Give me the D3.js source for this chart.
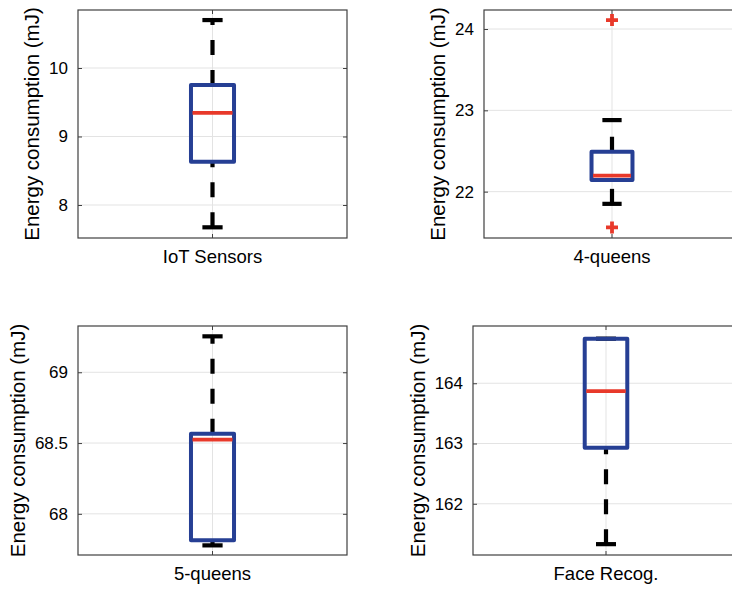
<!DOCTYPE html>
<html>
<head>
<meta charset="utf-8">
<script src="https://cdn.jsdelivr.net/npm/d3@7"></script>
<style>
  html, body { margin: 0; padding: 0; background: #fff; }
  svg { display: block; }
  text { font-family: "Liberation Sans", Arial, Helvetica, sans-serif; fill: #000; }
</style>
</head>
<body>
<svg id="chart" width="732" height="589"></svg>
<script>
// Box-plot statistics for each benchmark (energy in mJ)
const categories   = ["IoT Sensors", "4-queens", "5-queens", "Face Recog."];
const whiskerLow   = [7.674, 21.85, 67.777, 161.33];
const q1           = [8.63, 22.144, 67.814, 162.93];
const medians      = [9.345, 22.197, 68.524, 163.87];
const q3           = [9.752, 22.49, 68.566, 164.74];
const whiskerHigh  = [10.70, 22.88, 69.254, 164.74];
const outliers     = [[], [24.11, 21.56], [], []];
const yLimits      = [[7.518, 10.847], [21.43, 24.234], [67.709, 69.327], [161.15, 164.95]];
const yTickValues  = [[8, 9, 10], [22, 23, 24], [68, 68.5, 69], [162, 163, 164]];
const yLabelText   = "Energy consumption (mJ)";

// Panel frames (2 x 2 grid)
const frames = [
  { x0: 78,  x1: 347, y0: 10,  y1: 238 },
  { x0: 484, x1: 740, y0: 10,  y1: 238 },
  { x0: 78,  x1: 347, y0: 326, y1: 555 },
  { x0: 473, x1: 739, y0: 326, y1: 555 }
];

const BLUE = "#263f94", RED = "#e8392a", AXIS = "#404040", GRID = "#e3e3e3";
const svg = d3.select("#chart");
const fmt = d3.format("~g");

categories.forEach((cat, i) => {
  const f = frames[i];
  const x = d3.scaleLinear().domain([0, 1]).range([f.x0, f.x1]);
  const y = d3.scaleLinear().domain(yLimits[i]).range([f.y1, f.y0]);
  const g = svg.append("g");
  const cx = x(0.5);
  const boxHalf = x(0.58) - x(0.5);
  const capHalf = boxHalf * 0.47;

  // grid lines
  g.append("g").selectAll("line").data(yTickValues[i]).join("line")
    .attr("x1", f.x0).attr("x2", f.x1)
    .attr("y1", d => y(d)).attr("y2", d => y(d))
    .attr("stroke", GRID).attr("stroke-width", 1);
  g.append("line")
    .attr("x1", cx).attr("x2", cx).attr("y1", f.y0).attr("y2", f.y1)
    .attr("stroke", GRID).attr("stroke-width", 1);

  // whiskers (dashed, drawn upward from the lower value)
  const wh = g.append("g").attr("stroke", "#000").attr("stroke-width", 4.2).attr("fill", "none");
  wh.append("line").attr("x1", cx).attr("x2", cx)
    .attr("y1", y(q3[i])).attr("y2", y(whiskerHigh[i]))
    .attr("stroke-dasharray", "15,15");
  wh.append("line").attr("x1", cx).attr("x2", cx)
    .attr("y1", y(whiskerLow[i])).attr("y2", y(q1[i]))
    .attr("stroke-dasharray", "15,15");
  // whisker caps
  [whiskerLow[i], whiskerHigh[i]].forEach(v => {
    wh.append("line").attr("x1", cx - capHalf).attr("x2", cx + capHalf)
      .attr("y1", y(v)).attr("y2", y(v));
  });

  // box
  g.append("rect")
    .attr("x", cx - boxHalf).attr("width", 2 * boxHalf)
    .attr("y", y(q3[i])).attr("height", y(q1[i]) - y(q3[i]))
    .attr("fill", "none").attr("stroke", BLUE).attr("stroke-width", 4)
    .attr("stroke-linejoin", "round");

  // median
  g.append("line")
    .attr("x1", cx - boxHalf + 1.5).attr("x2", cx + boxHalf - 1.5)
    .attr("y1", y(medians[i])).attr("y2", y(medians[i]))
    .attr("stroke", RED).attr("stroke-width", 3.8);

  // outliers
  g.append("g").selectAll("path").data(outliers[i]).join("path")
    .attr("d", d => `M${cx - 6},${y(d)}H${cx + 6}M${cx},${y(d) - 6}V${y(d) + 6}`)
    .attr("stroke", RED).attr("stroke-width", 3.8).attr("fill", "none");

  // axes frame and inward ticks
  const yAxisL = d3.axisLeft(y).tickValues(yTickValues[i]).tickFormat(fmt)
    .tickSizeInner(-4).tickSizeOuter(0).tickPadding(10);
  const gl = g.append("g").attr("transform", `translate(${f.x0},0)`).call(yAxisL);
  gl.select(".domain").remove();
  gl.selectAll(".tick line").attr("stroke", AXIS);
  gl.selectAll(".tick text").attr("font-size", 17).attr("fill", "#000")
    .style("font-family", "'Liberation Sans', Arial, Helvetica, sans-serif");

  const yAxisR = d3.axisRight(y).tickValues(yTickValues[i]).tickFormat("")
    .tickSizeInner(-4).tickSizeOuter(0);
  const gr = g.append("g").attr("transform", `translate(${f.x1},0)`).call(yAxisR);
  gr.select(".domain").remove();
  gr.selectAll(".tick line").attr("stroke", AXIS);

  [f.y0, f.y1].forEach((yy, k) => {
    g.append("line").attr("x1", cx).attr("x2", cx)
      .attr("y1", yy).attr("y2", k === 0 ? yy + 4 : yy - 4)
      .attr("stroke", AXIS);
  });

  g.append("rect")
    .attr("x", f.x0).attr("y", f.y0)
    .attr("width", f.x1 - f.x0).attr("height", f.y1 - f.y0)
    .attr("fill", "none").attr("stroke", AXIS).attr("stroke-width", 1.2);

  // category label
  g.append("text").attr("x", cx).attr("y", f.y1 + 25)
    .attr("text-anchor", "middle").attr("font-size", 18.5)
    .text(cat);

  // y-axis title, placed just left of the widest tick label
  let minX = Infinity;
  gl.selectAll(".tick text").each(function () {
    const b = this.getBBox();
    minX = Math.min(minX, f.x0 + b.x);
  });
  g.append("text")
    .attr("transform", `translate(${minX - 10},${(f.y0 + f.y1) / 2}) rotate(-90)`)
    .attr("text-anchor", "middle").attr("font-size", 20.5)
    .text(yLabelText);
});
</script>
</body>
</html>
